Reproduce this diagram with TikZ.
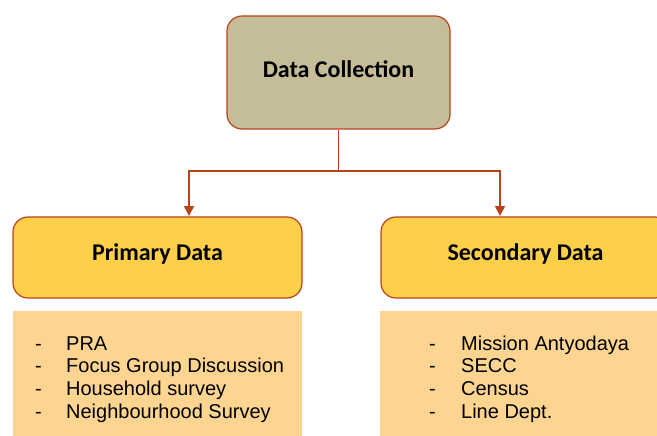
\documentclass[tikz,border=0pt]{standalone}
\usepackage{fontspec}
\setmainfont{Liberation Sans}
\newfontfamily\titlefont{Carlito}
\usetikzlibrary{arrows.meta}
\definecolor{edgered}{HTML}{B8431A}
\definecolor{tanfill}{HTML}{C4BD97}
\definecolor{goldfill}{HTML}{FED04A}
\definecolor{listfill}{HTML}{FDD590}
\tikzset{
  mainbox/.style={draw=edgered, line width=1.2pt, rounded corners=15pt, inner sep=0pt},
  listbox/.style={draw=none, fill=listfill, inner sep=0pt},
  titletext/.style={anchor=base, inner sep=0pt, font=\titlefont\bfseries\fontsize{24}{28}\selectfont},
  itemtext/.style={anchor=base west, inner sep=0pt, font=\fontsize{20}{24}\selectfont},
  conn/.style={draw=edgered, line width=1.6pt},
  arr/.style={conn, -{Triangle[width=10pt,length=10pt]}}
}
\begin{document}
\begin{tikzpicture}[x=1pt,y=-1pt]
\useasboundingbox (0,0) rectangle (657,436);
\clip (0,0) rectangle (657,436);
% boxes
\node[mainbox, fill=tanfill, minimum width=223pt, minimum height=113pt] (top) at (338.5,72.5) {};
\node[mainbox, fill=goldfill, minimum width=289pt, minimum height=81pt] (prim) at (157.5,257.5) {};
\node[mainbox, fill=goldfill, minimum width=289pt, minimum height=81pt] (sec) at (525.5,257.5) {};
\node[listbox, minimum width=289pt, minimum height=125pt] (plist) at (157.5,373.5) {};
\node[listbox, minimum width=289pt, minimum height=125pt] (slist) at (524.5,373.5) {};
% titles
\node[titletext] (toplab) at (338.5,78) {Data Collection};
\node[titletext] (primlab) at (157.5,260) {Primary Data};
\node[titletext] (seclab) at (525.5,260) {Secondary Data};
% connectors
\coordinate (junc) at (338.5,171);
\coordinate (pin) at (189,216);
\coordinate (sin) at (500,216);
\draw[conn] (top.south) -- (junc);
\draw[arr] (junc) -| (pin);
\draw[arr] (junc) -| (sin);
% list items
\foreach \t [count=\i] in {PRA, Focus Group Discussion, Household survey, Neighbourhood Survey} {
  \node[itemtext] (pd\i) at (35,350+22.7*\i-22.7) {\makebox[31pt][l]{-}\t};
}
\foreach \t [count=\i] in {Mission Antyodaya, SECC, Census, Line Dept.} {
  \node[itemtext] (sd\i) at (429,350+22.7*\i-22.7) {\makebox[32pt][l]{-}\t};
}
\end{tikzpicture}
\end{document}
